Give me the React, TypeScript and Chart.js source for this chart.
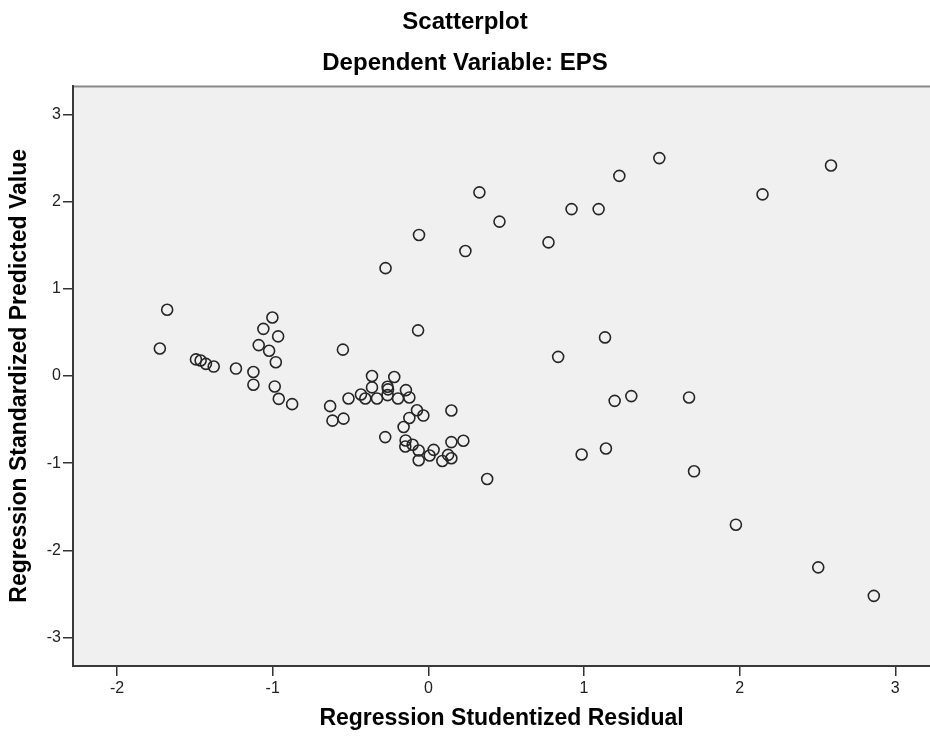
import React, { useEffect, useRef } from "react";
import { Chart, registerables } from "chart.js";

Chart.register(...registerables);

// Regression Studentized Residual (x)
const residuals: number[] = [
  -1.725, -1.678, -1.493, -1.463, -1.429, -1.379, -1.236, -1.124, -1.124, -1.002,
  -1.06, -0.965, -1.09, -1.023, -0.98, -0.987, -0.961, -0.875, -0.631, -0.616,
  -0.545, -0.549, -0.513, -0.433, -0.405, -0.362, -0.362, -0.33, -0.262, -0.259,
  -0.262, -0.219, -0.195, -0.144, -0.122, -0.066, -0.073, -0.122, -0.032, -0.159,
  0.148, -0.277, -0.146, -0.148, -0.101, -0.062, 0.034, 0.008, -0.062, 0.148,
  0.225, 0.127, 0.148, 0.09, 0.378, 0.328, 0.457, -0.06, 0.238, -0.275,
  0.772, 0.92, 1.094, 1.227, 1.484, 2.147, 2.587, 1.135, 0.834, 1.304,
  1.197, 1.675, 1.141, 0.985, 1.707, 1.976, 2.505, 2.862,
];

// Regression Standardized Predicted Value (y)
const predicted: number[] = [
  0.315, 0.759, 0.19, 0.177, 0.139, 0.108, 0.085, 0.046, -0.1, 0.67,
  0.54, 0.454, 0.354, 0.289, 0.158, -0.12, -0.262, -0.323, -0.346, -0.512,
  -0.489, 0.302, -0.258, -0.212, -0.258, 0.0, -0.131, -0.258, -0.123, -0.154,
  -0.219, -0.012, -0.258, -0.162, -0.246, 0.523, -0.393, -0.481, -0.454, -0.585,
  -0.396, -0.701, -0.739, -0.808, -0.789, -0.854, -0.847, -0.912, -0.966, -0.758,
  -0.743, -0.905, -0.943, -0.974, -1.181, 2.105, 1.77, 1.617, 1.432, 1.236,
  1.532, 1.913, 1.913, 2.294, 2.498, 2.082, 2.413, 0.442, 0.219, -0.231,
  -0.285, -0.246, -0.831, -0.9, -1.093, -1.705, -2.194, -2.521,
];

const xTickValues: number[] = [-2, -1, 0, 1, 2, 3];
const yTickValues: number[] = [3, 2, 1, 0, -1, -2, -3];

const titleText = "Scatterplot";
const subtitleText = "Dependent Variable: EPS";
const xTitle = "Regression Studentized Residual";
const yTitle = "Regression Standardized Predicted Value";

const FONT = "'Liberation Sans', Arial, sans-serif";

export default function App() {
  const ref = useRef<HTMLCanvasElement | null>(null);

  useEffect(() => {
    document.body.style.margin = "0";
    const canvas = ref.current;
    if (!canvas) return;

    const bgPlugin = {
      id: "plotBg",
      beforeDraw(chart: any) {
        const { ctx, chartArea } = chart;
        if (!chartArea) return;
        ctx.save();
        ctx.fillStyle = "#f0f0f0";
        ctx.fillRect(chartArea.left, chartArea.top, chartArea.right - chartArea.left, chartArea.bottom - chartArea.top);
        ctx.strokeStyle = "#8a8a8a";
        ctx.lineWidth = 2;
        ctx.beginPath();
        ctx.moveTo(chartArea.left, chartArea.top + 1);
        ctx.lineTo(chartArea.right, chartArea.top + 1);
        ctx.stroke();
        ctx.restore();
      },
    };

    const data = residuals.map((x, i) => ({ x, y: predicted[i] }));

    const chart = new Chart(canvas, {
      type: "scatter",
      data: {
        datasets: [
          {
            data,
            pointRadius: 5.5,
            pointHoverRadius: 5.5,
            pointBorderWidth: 1.6,
            borderColor: "#262626",
            backgroundColor: "rgba(0,0,0,0)",
            pointStyle: "circle",
          },
        ],
      },
      options: {
        animation: false,
        responsive: false,
        devicePixelRatio: 1,
        layout: { autoPadding: false, padding: { top: 0, left: 0, right: 0, bottom: 0 } },
        plugins: {
          legend: { display: false },
          tooltip: { enabled: false },
          title: {
            display: true,
            text: titleText,
            color: "#000",
            font: { family: FONT, size: 24, weight: "bold", lineHeight: 1.2 },
            padding: { top: 8, bottom: 5 },
          },
          subtitle: {
            display: true,
            text: subtitleText,
            color: "#000",
            font: { family: FONT, size: 24, weight: "bold", lineHeight: 1.2 },
            padding: { top: 7, bottom: 8 },
          },
        },
        scales: {
          x: {
            type: "linear",
            min: -2.283,
            max: 3.223,
            afterBuildTicks: (scale: any) => {
              scale.ticks = xTickValues.map((v) => ({ value: v }));
            },
            afterFit: (scale: any) => {
              scale.height = 70;
              scale.paddingLeft = 0;
              scale.paddingRight = 0;
            },
            grid: {
              display: true,
              drawOnChartArea: false,
              drawTicks: true,
              tickLength: 10,
              color: "#333",
              lineWidth: 1.5,
            },
            border: { display: true, color: "#3a3a3a", width: 2 },
            ticks: {
              color: "#222",
              font: { family: FONT, size: 16 },
              padding: 3,
              callback: (v: any) => String(v),
            },
            title: {
              display: true,
              text: xTitle,
              color: "#000",
              font: { family: FONT, size: 23, weight: "bold", lineHeight: 1.2 },
              padding: { top: 0, bottom: 4 },
            },
          },
          y: {
            type: "linear",
            min: -3.325,
            max: 3.329,
            afterBuildTicks: (scale: any) => {
              scale.ticks = yTickValues.map((v) => ({ value: v }));
            },
            afterFit: (scale: any) => {
              scale.width = 73;
              scale.paddingTop = 0;
              scale.paddingBottom = 0;
            },
            grid: {
              display: true,
              drawOnChartArea: false,
              drawTicks: true,
              tickLength: 10,
              color: "#333",
              lineWidth: 1.5,
            },
            border: { display: true, color: "#3a3a3a", width: 2 },
            ticks: {
              color: "#222",
              font: { family: FONT, size: 16 },
              padding: 2,
              callback: (v: any) => String(v),
            },
            title: {
              display: true,
              text: yTitle,
              color: "#000",
              font: { family: FONT, size: 23, weight: "bold", lineHeight: 1.2 },
              padding: { top: 6, bottom: 0 },
            },
          },
        },
      },
      plugins: [bgPlugin],
    } as any);

    return () => {
      chart.destroy();
    };
  }, []);

  return (
    <div style={{ width: 930, height: 736, background: "#fff" }}>
      <canvas ref={ref} width={930} height={736} style={{ display: "block" }} />
    </div>
  );
}
